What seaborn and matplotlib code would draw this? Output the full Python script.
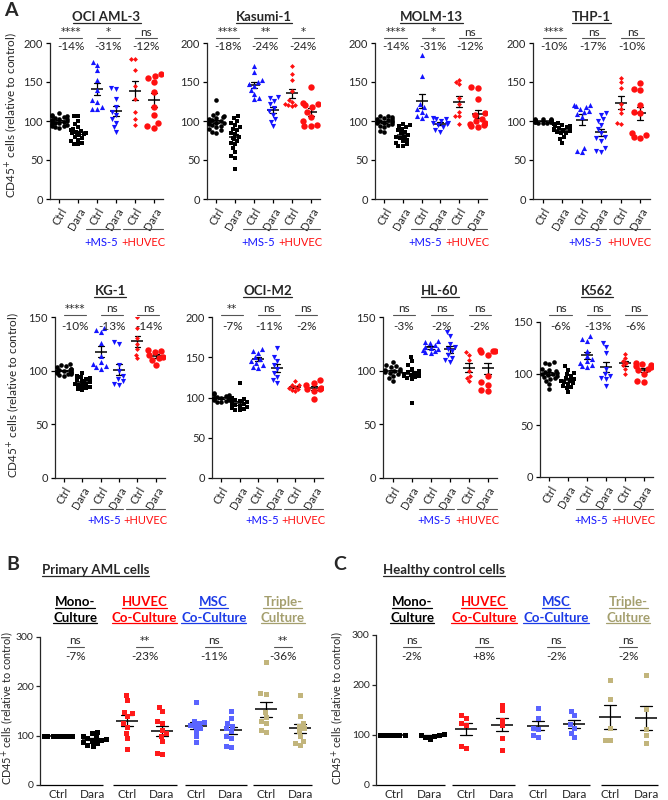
import matplotlib
matplotlib.use("Agg")
import matplotlib.pyplot as plt
import matplotlib.transforms as mtransforms
from matplotlib.lines import Line2D
import pandas as pd
import seaborn as sns

# ---------------- data ----------------
keys_a = ["ctrl", "dara", "ms5_ctrl", "ms5_dara", "huvec_ctrl", "huvec_dara"]
ticks_a = ["Ctrl", "Dara", "Ctrl", "Dara", "Ctrl", "Dara"]

oci_aml3_ctrl = [110, 108, 107, 106, 105, 104, 103, 102, 101, 100, 100, 99, 98, 97, 96, 95, 94, 93, 92, 91]
oci_aml3_dara = [107, 106, 100, 96, 92, 90, 88, 87, 86, 85, 84, 83, 82, 80, 78, 76, 74, 72, 71, 70]
oci_aml3_ms5_ctrl = [176, 172, 165, 152, 140, 127, 125, 118, 116, 115]
oci_aml3_ms5_dara = [142, 141, 128, 118, 112, 108, 103, 98, 92, 86]
oci_aml3_huvec_ctrl = [180, 180, 166, 145, 128, 112, 103, 95]
oci_aml3_huvec_dara = [160, 158, 155, 150, 137, 118, 108, 97, 93, 91]
oci_aml3_sig = ["****", "*", "ns"]
oci_aml3_pct = ["-14%", "-31%", "-12%"]

kasumi_ctrl = [127, 110, 108, 106, 105, 104, 102, 101, 100, 99, 98, 97, 96, 95, 94, 92, 90, 88, 86, 85]
kasumi_dara = [107, 104, 100, 98, 95, 92, 90, 88, 85, 83, 80, 78, 75, 72, 70, 65, 60, 55, 52, 38]
kasumi_ms5_ctrl = [170, 163, 152, 150, 148, 145, 140, 135, 130, 128]
kasumi_ms5_dara = [131, 129, 126, 122, 117, 113, 108, 102, 99, 93]
kasumi_huvec_ctrl = [171, 160, 153, 138, 127, 124, 122, 121, 120, 119]
kasumi_huvec_dara = [143, 123, 122, 121, 118, 112, 105, 100, 95, 94, 93]
kasumi_sig = ["****", "**", "*"]
kasumi_pct = ["-18%", "-24%", "-24%"]

molm_ctrl = [107, 106, 105, 104, 103, 102, 101, 100, 100, 99, 99, 98, 97, 96, 95, 94, 92, 87, 86]
molm_dara = [96, 95, 94, 92, 90, 88, 86, 84, 82, 80, 79, 78, 76, 74, 72, 70, 68, 68]
molm_ms5_ctrl = [184, 158, 122, 118, 115, 112, 108, 106, 104]
molm_ms5_dara = [104, 103, 102, 100, 98, 97, 96, 95, 92, 88, 86]
molm_huvec_ctrl = [153, 150, 147, 130, 122, 112, 107, 106, 96]
molm_huvec_dara = [143, 142, 128, 110, 108, 103, 100, 98, 96, 95, 93, 92]
molm_sig = ["****", "*", "ns"]
molm_pct = ["-14%", "-31%", "-12%"]

thp1_ctrl = [103, 102, 102, 101, 101, 101, 101, 100, 100, 100, 100, 100, 100, 99, 99, 99, 99, 98, 98, 97]
thp1_dara = [97, 96, 95, 94, 93, 92, 91, 90, 90, 89, 88, 87, 86, 85, 84, 80, 77, 72]
thp1_ms5_ctrl = [121, 120, 119, 118, 116, 113, 111, 109, 105, 66, 62, 60]
thp1_ms5_dara = [110, 108, 102, 100, 95, 90, 85, 80, 78, 75, 65, 62, 60]
thp1_huvec_ctrl = [155, 150, 142, 122, 115, 110, 97, 96]
thp1_huvec_dara = [149, 141, 140, 120, 112, 110, 85, 82, 80, 78]
thp1_sig = ["****", "ns", "ns"]
thp1_pct = ["-10%", "-17%", "-10%"]

kg1_ctrl = [106, 105, 104, 103, 102, 102, 101, 101, 100, 100, 100, 100, 99, 99, 98, 98, 97, 97, 96, 95]
kg1_dara = [98, 95, 94, 93, 92, 91, 90, 90, 89, 88, 88, 87, 86, 85, 84, 83, 82]
kg1_ms5_ctrl = [140, 138, 136, 126, 114, 108, 106, 104, 103, 102]
kg1_ms5_dara = [127, 125, 105, 100, 95, 92, 90, 88, 87]
kg1_huvec_ctrl = [150, 140, 130, 125, 120, 115, 112]
kg1_huvec_dara = [119, 118, 117, 115, 113, 112, 110, 105]
kg1_sig = ["****", "ns", "ns"]
kg1_pct = ["-10%", "-13%", "-14%"]

ocim2_ctrl = [105, 104, 103, 102, 101, 101, 100, 100, 100, 99, 99, 98, 98, 97, 97, 96, 95, 94]
ocim2_dara = [118, 100, 98, 97, 96, 95, 94, 93, 92, 91, 90, 89, 88, 87, 86, 85, 84]
ocim2_ms5_ctrl = [160, 158, 155, 150, 148, 145, 143, 140, 138, 137]
ocim2_ms5_dara = [162, 150, 145, 140, 135, 130, 125, 122, 118]
ocim2_huvec_ctrl = [120, 116, 115, 113, 112, 111, 109, 108]
ocim2_huvec_dara = [122, 118, 115, 112, 111, 110, 108, 98]
ocim2_sig = ["**", "ns", "ns"]
ocim2_pct = ["-7%", "-11%", "-2%"]

hl60_ctrl = [108, 105, 104, 103, 102, 101, 100, 100, 99, 98, 97, 95, 93, 90]
hl60_dara = [113, 109, 105, 102, 100, 99, 98, 97, 97, 96, 95, 95, 94, 93, 92, 70]
hl60_ms5_ctrl = [128, 127, 126, 124, 122, 121, 120, 119, 118, 117, 116]
hl60_ms5_dara = [136, 132, 125, 122, 120, 118, 115, 112, 110, 108]
hl60_huvec_ctrl = [117, 115, 110, 100, 95, 93, 90]
hl60_huvec_dara = [119, 118, 118, 117, 115, 95, 89, 87, 82, 81]
hl60_sig = ["ns", "ns", "ns"]
hl60_pct = ["-3%", "-2%", "-2%"]

k562_ctrl = [111, 110, 109, 105, 104, 103, 102, 101, 100, 100, 99, 98, 97, 96, 95, 93, 90, 85]
k562_dara = [107, 104, 101, 100, 98, 96, 95, 94, 93, 92, 91, 90, 88, 87, 86, 82]
k562_ms5_ctrl = [136, 134, 132, 122, 117, 114, 112, 110, 108, 107, 106]
k562_ms5_dara = [130, 126, 120, 105, 100, 98, 96, 95, 88]
k562_huvec_ctrl = [119, 115, 112, 110, 108, 105, 100]
k562_huvec_dara = [110, 109, 108, 107, 106, 105, 104, 100, 93, 92]
k562_sig = ["ns", "ns", "ns"]
k562_pct = ["-6%", "-13%", "-6%"]

keys_bc = ["mono_ctrl", "mono_dara", "huvec_ctrl", "huvec_dara",
           "msc_ctrl", "msc_dara", "triple_ctrl", "triple_dara"]
ticks_bc = ["Ctrl", "Dara"] * 4
headers_bc = [("Mono-", "Culture"), ("HUVEC", "Co-Culture"),
              ("MSC", "Co-Culture"), ("Triple-", "Culture")]

aml_mono_ctrl = [100, 100, 100, 100, 100, 100, 100, 100, 100, 100, 100, 100]
aml_mono_dara = [108, 105, 100, 97, 95, 93, 92, 90, 88, 85, 82, 80]
aml_huvec_ctrl = [182, 172, 148, 145, 140, 125, 118, 105, 95, 72]
aml_huvec_dara = [158, 150, 130, 125, 112, 105, 100, 90, 65, 62]
aml_msc_ctrl = [168, 130, 128, 125, 122, 120, 115, 110, 100, 88]
aml_msc_dara = [150, 135, 125, 120, 115, 110, 100, 95, 80, 78]
aml_triple_ctrl = [250, 187, 185, 148, 138, 130, 125, 112, 108]
aml_triple_dara = [182, 140, 125, 120, 115, 110, 100, 90, 85, 82]
aml_sig = ["ns", "**", "ns", "**"]
aml_pct = ["-7%", "-23%", "-11%", "-36%"]

hc_mono_ctrl = [100, 100, 100, 100, 100, 100]
hc_mono_dara = [102, 101, 100, 99, 97, 92]
hc_huvec_ctrl = [140, 135, 125, 120, 78, 75]
hc_huvec_dara = [160, 150, 130, 120, 95, 70]
hc_msc_ctrl = [155, 135, 115, 112, 100, 97]
hc_msc_dara = [148, 140, 122, 115, 105, 97]
hc_triple_ctrl = [210, 173, 115, 90, 90]
hc_triple_dara = [220, 152, 112, 100, 85]
hc_sig = ["ns", "ns", "ns", "ns"]
hc_pct = ["-2%", "+8%", "-2%", "-2%"]

# ---------------- styling ----------------
BLUE = "#1414ff"
RED = "#ff1010"
markers_a = ["o", "s", "^", "v", "D", "o"]
colors_a = ["black", "black", BLUE, BLUE, RED, RED]
sizes_a = [3.3, 3.1, 3.7, 3.7, 2.5, 4.6]

colors_bc = ["black", "black", "#ff1a1a", "#ff1a1a", "#5a64ff", "#5a64ff", "#c2b57c", "#c2b57c"]
header_colors = ["black", "#ff0000", "#1c3be6", "#a49f6e"]

sns.set_theme(style="ticks")
plt.rcParams["font.family"] = ["Lato", "DejaVu Sans"]
plt.rcParams["axes.linewidth"] = 0.9

W, H = 668, 800
fig = plt.figure(figsize=(W / 100, H / 100), dpi=100)
underlined = []


def fy(py):
    return 1 - py / H


def add_ax(l, t, r, b):
    return fig.add_axes([l / W, 1 - b / H, (r - l) / W, (b - t) / H])


def make_df(keys, groups):
    rows = [(k, v) for k, vals in zip(keys, groups) for v in vals]
    return pd.DataFrame(rows, columns=["cond", "value"])


def sig_text(ax, x, y, s, tr):
    # asterisks look too small in Lato, DejaVu gives the wider Prism-like stars
    fam = ["DejaVu Sans"] if "*" in s else ["Lato", "DejaVu Sans"]
    size = 7.5 if "*" in s else 8.5
    ax.text(x, y, s, ha="center", va="center", fontsize=size, family=fam, transform=tr)


def draw_points(ax, df, keys, markers, colors, sizes, mean_ms, capsize):
    for k, m, c, s in zip(keys, markers, colors, sizes):
        sns.swarmplot(data=df[df["cond"] == k], x="cond", y="value", order=keys,
                      marker=m, color=c, size=s, linewidth=0, warn_thresh=1, ax=ax)
    sns.pointplot(data=df, x="cond", y="value", order=keys, errorbar="se",
                  color="black", marker="_", markersize=mean_ms, markeredgewidth=1.1,
                  linestyle="none", capsize=capsize, err_kws={"linewidth": 0.9}, ax=ax)
    ax.set_xlabel("")
    ax.set_ylabel("")
    sns.despine(ax=ax)


# ---------------- panel A ----------------
panels_a = [
    ("OCI AML-3", [oci_aml3_ctrl, oci_aml3_dara, oci_aml3_ms5_ctrl, oci_aml3_ms5_dara, oci_aml3_huvec_ctrl, oci_aml3_huvec_dara],
     oci_aml3_sig, oci_aml3_pct, 200, (50, 43, 163, 199), 0),
    ("Kasumi-1", [kasumi_ctrl, kasumi_dara, kasumi_ms5_ctrl, kasumi_ms5_dara, kasumi_huvec_ctrl, kasumi_huvec_dara],
     kasumi_sig, kasumi_pct, 200, (207, 43, 320, 199), 0),
    ("MOLM-13", [molm_ctrl, molm_dara, molm_ms5_ctrl, molm_ms5_dara, molm_huvec_ctrl, molm_huvec_dara],
     molm_sig, molm_pct, 200, (375, 43, 487, 199), 0),
    ("THP-1", [thp1_ctrl, thp1_dara, thp1_ms5_ctrl, thp1_ms5_dara, thp1_huvec_ctrl, thp1_huvec_dara],
     thp1_sig, thp1_pct, 200, (533, 43, 650, 199), 0),
    ("KG-1", [kg1_ctrl, kg1_dara, kg1_ms5_ctrl, kg1_ms5_dara, kg1_huvec_ctrl, kg1_huvec_dara],
     kg1_sig, kg1_pct, 150, (55, 317, 165, 478), 1),
    ("OCI-M2", [ocim2_ctrl, ocim2_dara, ocim2_ms5_ctrl, ocim2_ms5_dara, ocim2_huvec_ctrl, ocim2_huvec_dara],
     ocim2_sig, ocim2_pct, 200, (212, 317, 323, 478), 1),
    ("HL-60", [hl60_ctrl, hl60_dara, hl60_ms5_ctrl, hl60_ms5_dara, hl60_huvec_ctrl, hl60_huvec_dara],
     hl60_sig, hl60_pct, 150, (383, 317, 497, 478), 1),
    ("K562", [k562_ctrl, k562_dara, k562_ms5_ctrl, k562_ms5_dara, k562_huvec_ctrl, k562_huvec_dara],
     k562_sig, k562_pct, 150, (540, 322, 653, 477), 1),
]
# per row: title, stars, bracket line, percent, group line, group text (pixel y)
row_y = [(17, 32, 38, 47, 229, 242), (291, 309, 315, 327, 509, 521)]

for name, groups, sig, pct, ymax, box, row in panels_a:
    ax = add_ax(*box)
    df = make_df(keys_a, groups)
    draw_points(ax, df, keys_a, markers_a, colors_a, sizes_a, 8.5, 0.32)
    ax.set_xlim(-0.5, 5.5)
    ax.set_ylim(0, ymax)
    ax.set_yticks(range(0, ymax + 1, 50))
    ax.set_xticks(range(6))
    ax.set_xticklabels(ticks_a, rotation=60, ha="right", rotation_mode="anchor", fontsize=8)
    ax.tick_params(axis="both", length=3, width=0.9, labelsize=8, pad=2, color="black")
    ty, sy, ly, py, gly, gty = row_y[row]
    cx = (box[0] + box[2]) / 2 / W
    t = fig.text(cx, fy(ty), name, ha="center", va="center", fontsize=9.5, fontweight="bold")
    underlined.append(t)
    tr = mtransforms.blended_transform_factory(ax.transData, fig.transFigure)
    for i, (s, p) in enumerate(zip(sig, pct)):
        x0 = 2 * i
        sig_text(ax, x0 + 0.6, fy(sy), s, tr)
        ax.plot([x0 + 0.0, x0 + 1.2], [fy(ly)] * 2, color="#555555", lw=0.8,
                transform=tr, clip_on=False)
        ax.text(x0 + 0.6, fy(py), p, ha="center", va="center", fontsize=8.5, transform=tr)
    for (a, b), xt, label, c in [((1.42, 3.23), 2.2, "+MS-5", BLUE),
                                 ((3.38, 5.5), 4.45, "+HUVEC", RED)]:
        ax.plot([a, b], [fy(gly)] * 2, color="#555555", lw=0.8,
                transform=tr, clip_on=False)
        ax.text(xt, fy(gty), label, ha="center", va="center", fontsize=8,
                color=c, transform=tr)

ylab = "CD45$^{+}$ cells (relative to control)"
fig.text(12 / W, fy(115), ylab, rotation=90, ha="center", va="center", fontsize=8.5)
fig.text(14 / W, fy(395), ylab, rotation=90, ha="center", va="center", fontsize=8.5)
fig.text(11 / W, fy(10), "A", ha="center", va="center", fontsize=14, fontweight="bold")

# ---------------- panels B and C ----------------
panels_bc = [
    ("B", "Primary AML cells", [aml_mono_ctrl, aml_mono_dara, aml_huvec_ctrl, aml_huvec_dara,
                                aml_msc_ctrl, aml_msc_dara, aml_triple_ctrl, aml_triple_dara],
     aml_sig, aml_pct, (40, 637, 312, 785), (-0.52, 7.34),
     [(-0.52, 1.3), (1.59, 3.44), (3.67, 5.46), (5.64, 7.34)], 13, 42, 7.5),
    ("C", "Healthy control cells", [hc_mono_ctrl, hc_mono_dara, hc_huvec_ctrl, hc_huvec_dara,
                                    hc_msc_ctrl, hc_msc_dara, hc_triple_ctrl, hc_triple_dara],
     hc_sig, hc_pct, (376, 635, 658, 785), (-0.5, 7.33),
     [(-0.5, 1.42), (1.61, 3.36), (3.72, 5.44), (5.75, 7.33)], 340, 383, 337),
]

for letter, subtitle, groups, sig, pct, box, xlim, segs, lx, sx, ylx in panels_bc:
    ax = add_ax(*box)
    df = make_df(keys_bc, groups)
    draw_points(ax, df, keys_bc, ["s"] * 8, colors_bc, [3.6] * 8, 16, 0.35)
    ax.set_xlim(*xlim)
    ax.set_ylim(0, 300)
    ax.set_yticks([0, 100, 200, 300])
    ax.set_xticks(range(8))
    ax.set_xticklabels(ticks_bc, fontsize=8.5)
    ax.tick_params(axis="y", length=3, width=0.9, labelsize=7.5, pad=1.5)
    ax.tick_params(axis="x", length=0, pad=3)
    ax.spines["bottom"].set_visible(False)
    for a, b in segs:
        ax.plot([a, b], [0, 0], color="black", lw=0.9, solid_capstyle="butt",
                transform=ax.get_xaxis_transform(), clip_on=False)
    tr = mtransforms.blended_transform_factory(ax.transData, fig.transFigure)
    for i, (s, p) in enumerate(zip(sig, pct)):
        xc = 2 * i + 0.5
        sig_text(ax, xc, fy(641), s, tr)
        ax.plot([xc - 0.25, xc + 0.25], [fy(646.5)] * 2, color="#555555", lw=0.8,
                transform=tr, clip_on=False)
        ax.text(xc, fy(657), p, ha="center", va="center", fontsize=8.5, transform=tr)
        for j, line in enumerate(headers_bc[i]):
            t = ax.text(xc, fy(602 + 15.5 * j), line, ha="center", va="center", fontsize=9.5,
                        fontweight="bold", color=header_colors[i], transform=tr)
            underlined.append(t)
    fig.text(lx / W, fy(565), letter, ha="center", va="center", fontsize=14, fontweight="bold")
    t = fig.text(sx / W, fy(570), subtitle, ha="left", va="center", fontsize=9.5, fontweight="bold")
    underlined.append(t)
    fig.text(ylx / W, fy(708), ylab, rotation=90, ha="center", va="center", fontsize=7.8)

# underline the bold headings
fig.canvas.draw()
renderer = fig.canvas.get_renderer()
inv = fig.transFigure.inverted()
for t in underlined:
    bb = t.get_window_extent(renderer)
    (x0, y0), (x1, _) = inv.transform([[bb.x0, bb.y0 + 0.5], [bb.x1, bb.y1]])
    fig.add_artist(Line2D([x0, x1], [y0, y0], transform=fig.transFigure,
                          color=t.get_color(), lw=0.9))

fig.savefig("out.png", dpi=100)
